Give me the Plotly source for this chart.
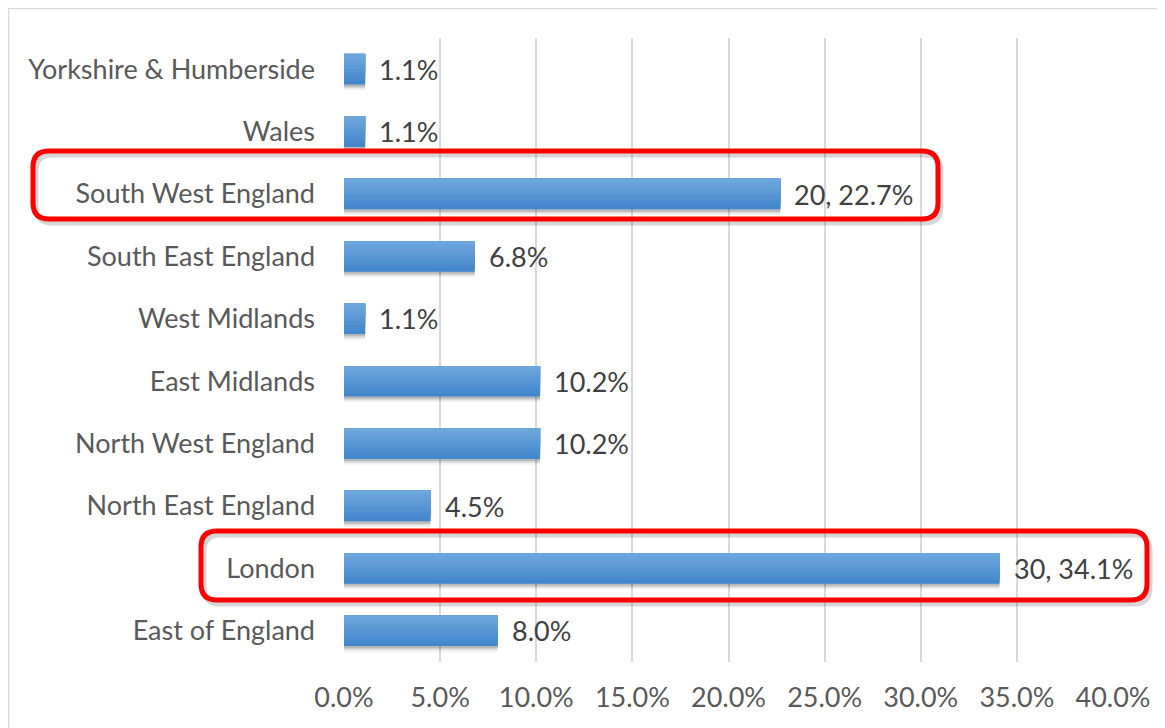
import plotly.graph_objects as go

categories = ["East of England", "London", "North East England", "North West England",
              "East Midlands", "West Midlands", "South East England", "South West England",
              "Wales", "Yorkshire & Humberside"]
values = [8.0, 34.1, 4.5, 10.2, 10.2, 1.1, 6.8, 22.7, 1.1, 1.1]
labels = ["8.0%", "30, 34.1%", "4.5%", "10.2%", "10.2%", "1.1%", "6.8%", "20, 22.7%", "1.1%", "1.1%"]
tick_vals = [0, 5, 10, 15, 20, 25, 30, 35, 40]
tick_text = ["0.0%", "5.0%", "10.0%", "15.0%", "20.0%", "25.0%", "30.0%", "35.0%", "40.0%"]

FONT = "Lato"
FS = 27
GREY = "#595959"
OFF = 8  # page body margin
W, H = 1165 - OFF, 728 - OFF
L, R, T, B = 344 - OFF, 1113 - OFF, 38 - OFF, 662 - OFF
PW, PH = R - L, B - T

def px_x(p):
    return (p - OFF - L) / PW

def px_y(p):
    return (B - (p - OFF)) / PH

BW = 0.49
fig = go.Figure()
# soft shadow beneath bars
for dy, a in [(0.09, 0.06), (0.06, 0.10), (0.035, 0.14)]:
    fig.add_trace(go.Bar(
        x=values, y=categories, orientation="h", width=BW, offset=-BW / 2 - dy,
        marker=dict(color=f"rgba(0,0,0,{a})", line=dict(width=0)), hoverinfo="skip",
    ))
# gradient bar: successively shorter overlapping layers, lighter toward the top
N = 10
top = (0x6f, 0xa7, 0xdd)
bot = (0x42, 0x86, 0xcb)
for i in range(N):
    f = i / (N - 1)
    col = tuple(round(bot[j] + (top[j] - bot[j]) * f) for j in range(3))
    start = -BW / 2 + i * BW / N
    fig.add_trace(go.Bar(
        x=values, y=categories, orientation="h",
        width=BW / 2 - start, offset=start,
        marker=dict(color="rgb(%d,%d,%d)" % col, line=dict(width=0)),
        hoverinfo="skip",
    ))

annotations = []
for c, v, t in zip(categories, values, labels):
    annotations.append(dict(x=v, y=c, xref="x", yref="y", text=t, showarrow=False,
                            xanchor="left", xshift=12, font=dict(family=FONT, size=FS, color="#404040")))

def rounded_rect(x0, y0, x1, y1, r):
    def P(x, y):
        return f"{px_x(x):.5f},{px_y(y):.5f}"
    return (f"M {P(x0 + r, y0)} L {P(x1 - r, y0)} Q {P(x1, y0)} {P(x1, y0 + r)} "
            f"L {P(x1, y1 - r)} Q {P(x1, y1)} {P(x1 - r, y1)} "
            f"L {P(x0 + r, y1)} Q {P(x0, y1)} {P(x0, y1 - r)} "
            f"L {P(x0, y0 + r)} Q {P(x0, y0)} {P(x0 + r, y0)} Z")

shapes = []
# outer chart frame (left and top edges visible)
shapes.append(dict(type="path", xref="paper", yref="paper",
                   path=f"M {px_x(8.5):.5f},{px_y(740):.5f} L {px_x(8.5):.5f},{px_y(8.5):.5f} L {px_x(1164.5):.5f},{px_y(8.5):.5f}",
                   line=dict(color="#d9d9d9", width=1.5), layer="below"))
boxes = [(33, 151, 938, 219), (201, 531, 1147, 600)]
for (x0, y0, x1, y1) in boxes:
    shapes.append(dict(type="path", xref="paper", yref="paper",
                       path=rounded_rect(x0 + 3, y0 + 4, x1 + 3, y1 + 4, 16),
                       line=dict(color="rgba(0,0,0,0.16)", width=5)))
    shapes.append(dict(type="path", xref="paper", yref="paper",
                       path=rounded_rect(x0, y0, x1, y1, 16),
                       line=dict(color="#ff0000", width=5)))

fig.update_layout(
    width=W, height=H,
    margin=dict(l=L, r=W - R, t=T, b=H - B),
    paper_bgcolor="white", plot_bgcolor="white",
    showlegend=False,
    barmode="overlay",
    font=dict(family=FONT, size=FS, color=GREY),
    xaxis=dict(range=[0, 40], tickvals=tick_vals, ticktext=tick_text,
               showgrid=True, gridcolor="#d9d9d9", gridwidth=1.5,
               zeroline=False, showline=False, ticks="",
               ticklabelstandoff=17,
               tickfont=dict(family=FONT, size=FS, color=GREY), fixedrange=True),
    yaxis=dict(categoryorder="array", categoryarray=categories,
               showgrid=False, zeroline=False, showline=False, ticks="",
               ticklabelstandoff=28,
               tickfont=dict(family=FONT, size=FS, color=GREY), fixedrange=True),
    annotations=annotations,
    shapes=shapes,
)

fig.write_html("out.html")
